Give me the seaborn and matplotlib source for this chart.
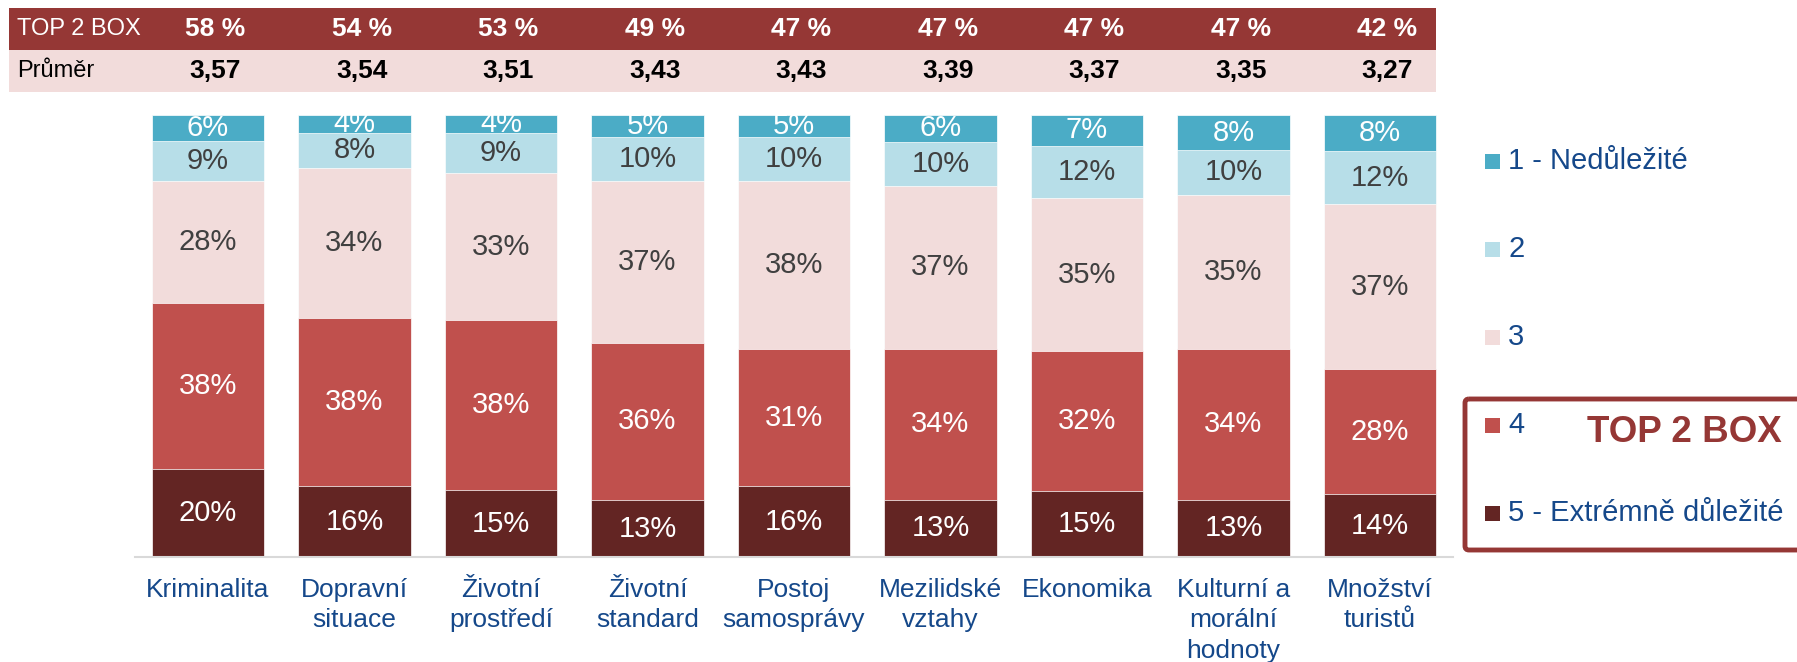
import matplotlib
matplotlib.use('Agg')
import numpy as np
import pandas as pd
import matplotlib.pyplot as plt
import seaborn as sns
from matplotlib.patches import Rectangle, FancyBboxPatch
from matplotlib.transforms import blended_transform_factory

# data
categories = ['Kriminalita', 'Dopravní\nsituace', 'Životní\nprostředí', 'Životní\nstandard',
              'Postoj\nsamosprávy', 'Mezilidské\nvztahy', 'Ekonomika',
              'Kulturní a\nmorální\nhodnoty', 'Množství\nturistů']
levels = ['1 - Nedůležité', '2', '3', '4', '5 - Extrémně důležité']
share_1 = [6, 4, 4, 5, 5, 6, 7, 8, 8]
share_2 = [9, 8, 9, 10, 10, 10, 12, 10, 12]
share_3 = [28, 34, 33, 37, 38, 37, 35, 35, 37]
share_4 = [38, 38, 38, 36, 31, 34, 32, 34, 28]
share_5 = [20, 16, 15, 13, 16, 13, 15, 13, 14]
top2box = [58, 54, 53, 49, 47, 47, 47, 47, 42]
prumer = ['3,57', '3,54', '3,51', '3,43', '3,43', '3,39', '3,37', '3,35', '3,27']

colors = ['#4BACC6', '#B7DEE8', '#F2DCDB', '#C0504D', '#632523']
label_colors = ['white', '#404040', '#404040', 'white', 'white']
dark_red = '#953735'
pink = '#F2DCDB'
navy = '#15488A'

sns.set_style('white')
plt.rcParams['font.family'] = ['Liberation Sans', 'DejaVu Sans']

W, H = 1797, 662
fig = plt.figure(figsize=(W / 100, H / 100), dpi=100)

# bar axes: x from 134.75 to 1453.25 px, y from 115 to 557 px
ax = fig.add_axes([134.75 / W, 1 - 557 / H, (1453.25 - 134.75) / W, (557 - 115) / H])

shares = np.array([share_1, share_2, share_3, share_4, share_5], dtype=float)
totals = shares.sum(axis=0)
norm = shares / totals * 100
# stack from level 5 at the bottom up to level 1
tops = np.cumsum(norm[::-1], axis=0)[::-1]  # tops[i] = top of level i segment
bottoms = tops - norm

df = pd.DataFrame({'cat': categories})
for i in range(5):
    df['top'] = tops[i]
    sns.barplot(data=df, x='cat', y='top', color=colors[i], saturation=1,
                width=0.765, edgecolor='white', linewidth=0.5, ax=ax)

for i in range(5):
    for j in range(len(categories)):
        ax.text(j, bottoms[i, j] + norm[i, j] / 2, f'{int(shares[i, j])}%',
                ha='center', va='center', fontsize=21, color=label_colors[i])

ax.set_xlim(-0.5, 8.5)
ax.set_ylim(0, 100)
ax.set_xlabel('')
ax.set_ylabel('')
ax.set_yticks([])
ax.tick_params(axis='x', length=0, pad=15, labelsize=19, labelcolor=navy)
for lab in ax.get_xticklabels():
    lab.set_linespacing(1.35)
for s in ['top', 'left', 'right']:
    ax.spines[s].set_visible(False)
ax.spines['bottom'].set_color('#D9D9D9')
ax.spines['bottom'].set_linewidth(1.5)

# overlay in pixel coordinates for header table and legend
ov = fig.add_axes([0, 0, 1, 1])
ov.set_xlim(0, W)
ov.set_ylim(H, 0)
ov.axis('off')

ov.add_patch(Rectangle((9, 8), 1436 - 9, 42, color=dark_red, lw=0))
ov.add_patch(Rectangle((9, 50), 1436 - 9, 42, color=pink, lw=0))
ov.text(17, 29, 'TOP 2 BOX', color='white', fontsize=17, va='center', ha='left')
ov.text(17, 71, 'Průměr', color='black', fontsize=17, va='center', ha='left')

tr = blended_transform_factory(ax.transData, ov.transData)
for j in range(len(categories)):
    ov.text(j + 0.05, 29, f'{top2box[j]} %', transform=tr, ha='center', va='center',
            fontsize=19, fontweight='bold', color='white')
    ov.text(j + 0.05, 71, prumer[j], transform=tr, ha='center', va='center',
            fontsize=19, fontweight='bold', color='black')

# legend
leg_y = [161, 249, 337, 425, 513]
for i in range(5):
    ov.add_patch(Rectangle((1485, leg_y[i] - 7.5), 15, 15, color=colors[i], lw=0))
    ov.text(1508, leg_y[i], levels[i], fontsize=21, color=navy, va='center', ha='left')

box = FancyBboxPatch((1465, 399), 360, 151, boxstyle='round,pad=0,rounding_size=4',
                     fill=False, edgecolor=dark_red, lw=3.5, clip_on=False)
ov.add_patch(box)
ov.text(1782, 432, 'TOP 2 BOX', fontsize=26.5, fontweight='bold', color=dark_red,
        ha='right', va='center')

fig.savefig('out.png', dpi=100)
